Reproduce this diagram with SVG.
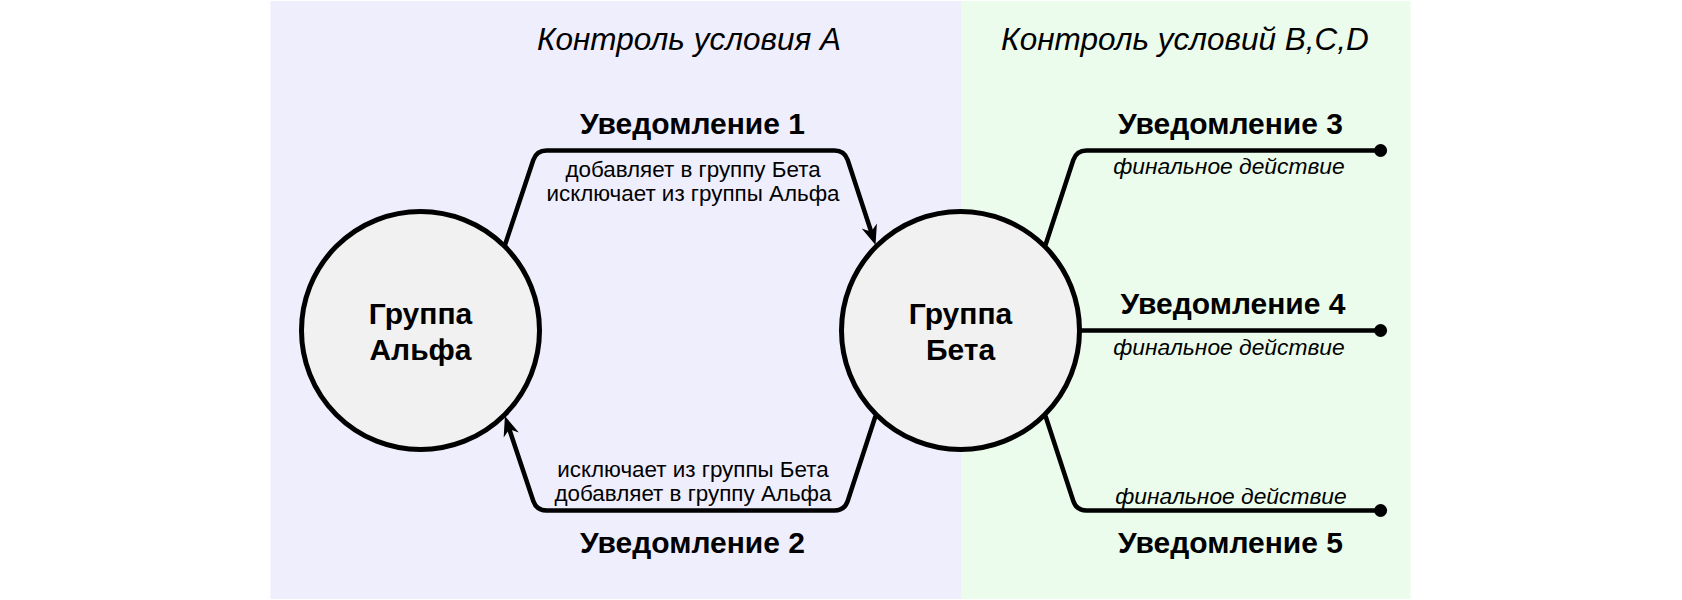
<svg xmlns="http://www.w3.org/2000/svg" width="1682" height="600" viewBox="0 0 1682 600">
<style>
.title{font-family:"Liberation Sans",Arial,sans-serif;font-style:italic;font-size:31.5px;fill:#000;text-anchor:middle}
.notif{font-family:"Liberation Sans",Arial,sans-serif;font-weight:bold;font-size:30px;fill:#000;text-anchor:middle}
.desc{font-family:"Liberation Sans",Arial,sans-serif;font-size:22.4px;fill:#000;text-anchor:middle}
.fin{font-family:"Liberation Sans",Arial,sans-serif;font-style:italic;font-size:22.8px;fill:#000;text-anchor:middle}
.node{font-family:"Liberation Sans",Arial,sans-serif;font-weight:bold;font-size:30px;fill:#000;text-anchor:middle}
.grp{fill:#F1F1F1;stroke:#000;stroke-width:5}
.edge{fill:none;stroke:#000;stroke-width:4.5}
.dot{fill:#000}
</style>
<defs>
<marker id="arr" markerUnits="userSpaceOnUse" viewBox="0 -10 22 20" refX="9" refY="0" markerWidth="22" markerHeight="20" orient="auto" overflow="visible">
<path d="M20,0 L0,-8 L6,0 L0,8 Z" fill="#000"/>
</marker>
</defs>
<g id="zones">
<rect x="270.5" y="1" width="690.5" height="598" fill="#EFEEFD"/>
<rect x="961" y="1" width="449.5" height="598" fill="#EBFCEC"/>
<text class="title" x="689" y="50">Контроль условия A</text>
<text class="title" x="1185" y="50">Контроль условий B,C,D</text>
</g>
<g id="connectors">
<path class="edge" d="M505,245 L533.3,160 Q536.5,150.5 546.5,150.5 L834.5,150.5 Q844.5,150.5 847.7,160 L872.1,234.5" marker-end="url(#arr)"/>
<path class="edge" d="M875.5,416 L847.7,501 Q844.5,510.5 834.5,510.5 L546.5,510.5 Q536.5,510.5 533.3,501 L508.4,426.5" marker-end="url(#arr)"/>
<path class="edge" d="M1045.5,245 L1073.3,160 Q1076.5,150.5 1086.5,150.5 L1380.6,150.5"/>
<path class="edge" d="M1081,330.5 L1380.6,330.5"/>
<path class="edge" d="M1045.5,416 L1073.3,501 Q1076.5,510.5 1086.5,510.5 L1380.6,510.5"/>
<circle class="dot" cx="1380.6" cy="150.5" r="6.5"/>
<circle class="dot" cx="1380.6" cy="330.5" r="6.5"/>
<circle class="dot" cx="1380.6" cy="510.5" r="6.5"/>
</g>
<g id="labels">
<text class="notif" x="692.5" y="134">Уведомление 1</text>
<text class="desc" x="693" y="177">добавляет в группу Бета</text>
<text class="desc" x="693" y="201">исключает из группы Альфа</text>
<text class="desc" x="693" y="477">исключает из группы Бета</text>
<text class="desc" x="693" y="501">добавляет в группу Альфа</text>
<text class="notif" x="692.5" y="553">Уведомление 2</text>
<text class="notif" x="1230.5" y="133.5">Уведомление 3</text>
<text class="fin" x="1229" y="174">финальное действие</text>
<text class="notif" x="1233" y="313.5">Уведомление 4</text>
<text class="fin" x="1229" y="355">финальное действие</text>
<text class="fin" x="1231" y="504">финальное действие</text>
<text class="notif" x="1230.5" y="553">Уведомление 5</text>
</g>
<g id="alpha">
<circle class="grp" cx="420.5" cy="330.5" r="119"/>
<text class="node" x="420.5" y="323.5">Группа</text>
<text class="node" x="420.5" y="360">Альфа</text>
</g>
<g id="beta">
<circle class="grp" cx="960.5" cy="330.5" r="119"/>
<text class="node" x="960.5" y="323.5">Группа</text>
<text class="node" x="960.5" y="360">Бета</text>
</g>
</svg>
